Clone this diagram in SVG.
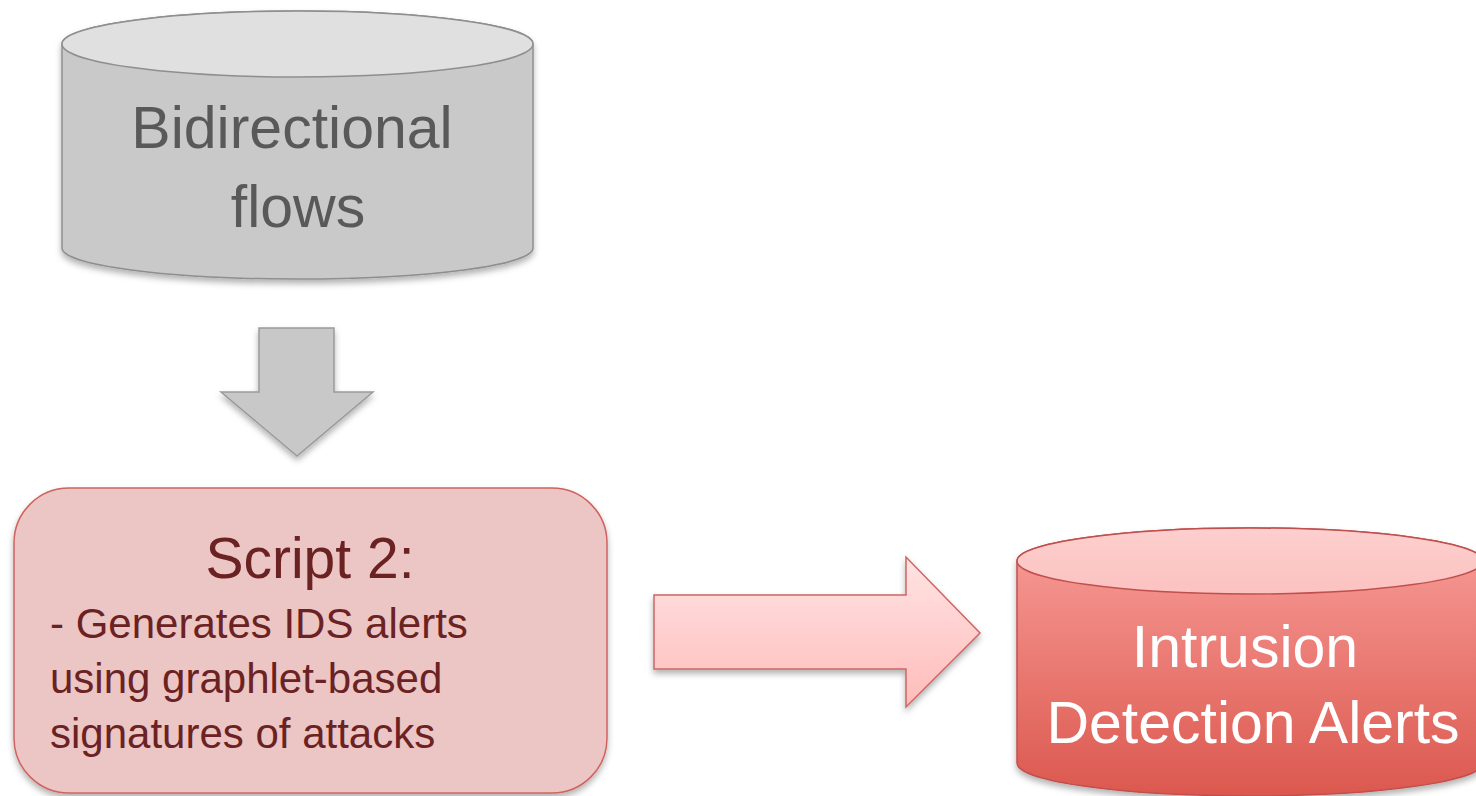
<svg xmlns="http://www.w3.org/2000/svg" width="1476" height="796" viewBox="0 0 1476 796">
<style>
  .big { font-family: "Liberation Sans", Arial, sans-serif; font-size: 59px; text-anchor: middle; }
  .body { font-family: "Liberation Sans", Arial, sans-serif; font-size: 42px; fill: #6b2222; }
</style>
<defs>
  <filter id="sh" x="-10%" y="-10%" width="120%" height="130%">
    <feDropShadow dx="0" dy="4" stdDeviation="3" flood-color="#000" flood-opacity="0.3"/>
  </filter>
  <linearGradient id="redBody" x1="0" y1="0" x2="0" y2="1">
    <stop offset="0" stop-color="#f99e9a"/>
    <stop offset="1" stop-color="#db584e"/>
  </linearGradient>
  <linearGradient id="redTop" x1="0" y1="0" x2="0" y2="1">
    <stop offset="0" stop-color="#fdcfce"/>
    <stop offset="1" stop-color="#fbc2c0"/>
  </linearGradient>
  <linearGradient id="pinkArrow" x1="0" y1="0" x2="0" y2="1">
    <stop offset="0" stop-color="#ffe3e3"/>
    <stop offset="1" stop-color="#ffbcba"/>
  </linearGradient>
</defs>

<g id="bidirectional-flows">
  <path d="M62,44 A235.5,33 0 0 1 533,44 V248 A235.5,31 0 0 1 62,248 Z" fill="#c9c9c9" stroke="#8e8e8e" stroke-width="1.5" filter="url(#sh)"/>
  <ellipse cx="297.5" cy="44" rx="235.5" ry="33" fill="#e0e0e0" stroke="#8e8e8e" stroke-width="1.5"/>
  <text class="big" x="292" y="148" fill="#595959">Bidirectional</text>
  <text class="big" x="298" y="227" fill="#595959">flows</text>
</g>

<g id="script-2">
  <rect x="14" y="488" width="593" height="305" rx="55" ry="55" fill="#ecc5c5" stroke="#d0635f" stroke-width="1.5" filter="url(#sh)"/>
  <text class="big" x="310" y="578" fill="#6b2222" style="font-size:57px">Script 2:</text>
  <text class="body" x="50" y="638">- Generates IDS alerts</text>
  <text class="body" x="50" y="693">using graphlet-based</text>
  <text class="body" x="50" y="748">signatures of attacks</text>
</g>

<g id="intrusion-detection-alerts">
  <path d="M1017,561 A233,33 0 0 1 1483,561 V763 A233,33 0 0 1 1017,763 Z" fill="url(#redBody)" stroke="#c0504d" stroke-width="1.5" filter="url(#sh)"/>
  <ellipse cx="1250" cy="561" rx="233" ry="33" fill="url(#redTop)" stroke="#c0504d" stroke-width="1.5"/>
  <text class="big" x="1245" y="667" fill="#ffffff">Intrusion</text>
  <text class="big" x="1253" y="743" fill="#ffffff">Detection Alerts</text>
</g>

<g id="connectors">
  <path d="M259,328 H334 V392 H373 L297,456 L221,392 H259 Z" fill="#c8c8c8" stroke="#9a9a9a" stroke-width="1.5" filter="url(#sh)"/>
  <path d="M654,595 H906 V557 L980,633 L906,707 V669 H654 Z" fill="url(#pinkArrow)" stroke="#cd6662" stroke-width="1.5" filter="url(#sh)"/>
</g>
</svg>
